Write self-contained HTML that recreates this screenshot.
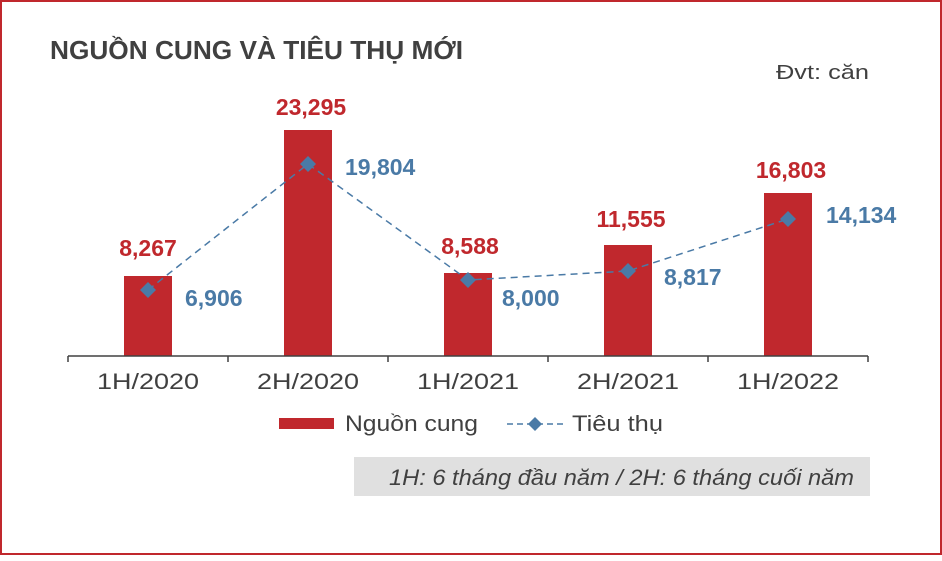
<!DOCTYPE html>
<html><head><meta charset="utf-8"><style>
body{margin:0;width:942px;height:556px;overflow:hidden;background:#fff}
</style></head><body>
<svg width="942" height="556" xmlns="http://www.w3.org/2000/svg" font-family="Liberation Sans, DejaVu Sans, sans-serif">
<rect x="1" y="1" width="940" height="553" fill="#fff" stroke="#c0282d" stroke-width="2"/>
<text x="50" y="59" font-size="26" font-weight="bold" fill="#404040" textLength="413" lengthAdjust="spacingAndGlyphs">NGUỒN CUNG VÀ TIÊU THỤ MỚI</text>
<text x="776" y="79" font-size="20" fill="#404040" textLength="93" lengthAdjust="spacingAndGlyphs">Đvt: căn</text>
<g fill="#c0282d">
<rect x="124" y="276" width="48" height="80"/>
<rect x="284" y="130" width="48" height="226"/>
<rect x="444" y="273" width="48" height="83"/>
<rect x="604" y="245" width="48" height="111"/>
<rect x="764" y="193" width="48" height="163"/>
</g>
<g stroke="#404040" stroke-width="1.5">
<line x1="68" y1="356" x2="868" y2="356"/>
<line x1="68" y1="356" x2="68" y2="362"/><line x1="228" y1="356" x2="228" y2="362"/><line x1="388" y1="356" x2="388" y2="362"/><line x1="548" y1="356" x2="548" y2="362"/><line x1="708" y1="356" x2="708" y2="362"/><line x1="868" y1="356" x2="868" y2="362"/>
</g>
<polyline points="148,290 308,164 468,280 628,271 788,219" fill="none" stroke="#4a7aa6" stroke-width="1.5" stroke-dasharray="7,5"/>
<g fill="#4a7aa6">
<path d="M148,282 l8,8 -8,8 -8,-8z"/><path d="M308,156 l8,8 -8,8 -8,-8z"/><path d="M468,272 l8,8 -8,8 -8,-8z"/><path d="M628,263 l8,8 -8,8 -8,-8z"/><path d="M788,211 l8,8 -8,8 -8,-8z"/>
</g>
<g font-size="23" font-weight="bold" fill="#c0282d" text-anchor="middle">
<text x="148" y="256">8,267</text><text x="311" y="115">23,295</text><text x="470" y="254">8,588</text><text x="631" y="227">11,555</text><text x="791" y="178">16,803</text>
</g>
<g font-size="23" font-weight="bold" fill="#4a7aa6">
<text x="185" y="306">6,906</text><text x="345" y="175">19,804</text><text x="502" y="306">8,000</text><text x="664" y="285">8,817</text><text x="826" y="223">14,134</text>
</g>
<g font-size="22" fill="#404040" text-anchor="middle">
<text x="148" y="389" textLength="102" lengthAdjust="spacingAndGlyphs">1H/2020</text><text x="308" y="389" textLength="102" lengthAdjust="spacingAndGlyphs">2H/2020</text><text x="468" y="389" textLength="102" lengthAdjust="spacingAndGlyphs">1H/2021</text><text x="628" y="389" textLength="102" lengthAdjust="spacingAndGlyphs">2H/2021</text><text x="788" y="389" textLength="102" lengthAdjust="spacingAndGlyphs">1H/2022</text>
</g>
<rect x="279" y="418" width="55" height="11" fill="#c0282d"/>
<text x="345" y="431" font-size="22" fill="#404040" textLength="133" lengthAdjust="spacingAndGlyphs">Nguồn cung</text>
<line x1="507" y1="424" x2="566" y2="424" stroke="#4a7aa6" stroke-width="1.5" stroke-dasharray="6,4"/>
<path d="M535,417 l7,7 -7,7 -7,-7z" fill="#4a7aa6"/>
<text x="572" y="431" font-size="22" fill="#404040" textLength="91" lengthAdjust="spacingAndGlyphs">Tiêu thụ</text>
<rect x="354" y="457" width="516" height="39" fill="#e0e0e0"/>
<text x="389" y="485" font-size="22" font-style="italic" fill="#404040" textLength="465" lengthAdjust="spacingAndGlyphs">1H: 6 tháng đầu năm / 2H: 6 tháng cuối năm</text>
</svg>
</body></html>
